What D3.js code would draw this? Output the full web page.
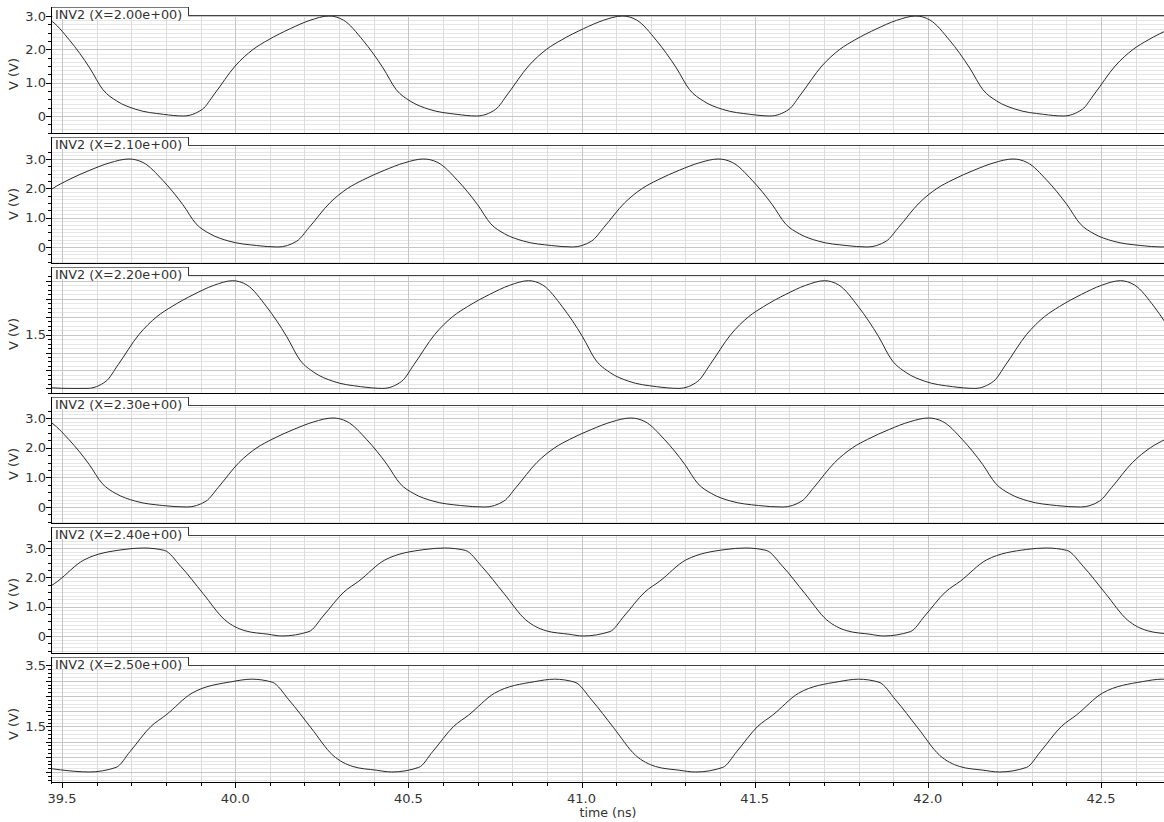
<!DOCTYPE html>
<html>
<head>
<meta charset="utf-8">
<script src="https://cdn.jsdelivr.net/npm/d3@7"></script>
<style>
  html, body { margin: 0; padding: 0; background: #fff; }
  svg text { font-family: "DejaVu Sans", sans-serif; fill: #333; }
</style>
</head>
<body>
<svg id="chart" width="1164" height="822"></svg>
<script>
// time axis (ns)
var timeDomain = [39.471, 42.682];
var timeTicks = [39.5, 40.0, 40.5, 41.0, 41.5, 42.0, 42.5];

// one entry per stacked panel
var panelLabels = ["INV2 (X=2.00e+00)", "INV2 (X=2.10e+00)", "INV2 (X=2.20e+00)",
                   "INV2 (X=2.30e+00)", "INV2 (X=2.40e+00)", "INV2 (X=2.50e+00)"];
var yDomains = [[-0.51, 3.03], [-0.546, 3.477], [-0.128, 3.159],
                [-0.539, 3.438], [-0.58, 3.443], [-0.362, 3.516]];
var yLabelTicks = [[0, 1, 2, 3], [0, 1, 2, 3], [1.5], [0, 1, 2, 3], [0, 1, 2, 3], [1.5, 3.5]];
var yMajorStep = [1, 1, 0.5, 1, 1, 0.5];
var yMinorStep = [0.25, 0.25, 0.125, 0.25, 0.25, 0.125];

// waveforms [time ns, volts]
var wave200 = [[39.369,2.87],[39.424,3.00],[39.465,2.88],[39.522,2.27],[39.580,1.44],[39.618,0.79],[39.658,0.45],[39.713,0.20],[39.793,0.05],
  [39.850,0.00],[39.905,0.20],[39.940,0.66],[40.000,1.50],[40.052,2.00],[40.095,2.28],[40.159,2.62],[40.216,2.87],[40.271,3.00],[40.312,2.88],[40.369,2.27],[40.427,1.44],[40.465,0.79],[40.505,0.45],[40.560,0.20],[40.640,0.05],
  [40.697,0.00],[40.752,0.20],[40.787,0.66],[40.847,1.50],[40.899,2.00],[40.942,2.28],[41.006,2.62],[41.063,2.87],[41.118,3.00],[41.159,2.88],[41.216,2.27],[41.274,1.44],[41.312,0.79],[41.352,0.45],[41.407,0.20],[41.487,0.05],
  [41.544,0.00],[41.599,0.20],[41.634,0.66],[41.694,1.50],[41.746,2.00],[41.789,2.28],[41.853,2.62],[41.910,2.87],[41.965,3.00],[42.006,2.88],[42.063,2.27],[42.121,1.44],[42.159,0.79],[42.199,0.45],[42.254,0.20],[42.334,0.05],
  [42.391,0.00],[42.446,0.20],[42.481,0.66],[42.541,1.50],[42.593,2.00],[42.636,2.28],[42.700,2.62]];
var wave210 = [[39.211,0.05],[39.272,0.00],[39.327,0.20],[39.362,0.66],[39.422,1.50],[39.474,2.00],[39.517,2.28],[39.581,2.62],[39.638,2.87],[39.693,3.00],[39.734,2.88],[39.791,2.27],[39.849,1.44],[39.887,0.79],[39.927,0.45],[39.982,0.20],[40.062,0.05],
  [40.123,0.00],[40.178,0.20],[40.213,0.66],[40.273,1.50],[40.325,2.00],[40.368,2.28],[40.432,2.62],[40.489,2.87],[40.544,3.00],[40.585,2.88],[40.642,2.27],[40.700,1.44],[40.738,0.79],[40.778,0.45],[40.833,0.20],[40.913,0.05],
  [40.974,0.00],[41.029,0.20],[41.064,0.66],[41.124,1.50],[41.176,2.00],[41.219,2.28],[41.283,2.62],[41.340,2.87],[41.395,3.00],[41.436,2.88],[41.493,2.27],[41.551,1.44],[41.589,0.79],[41.629,0.45],[41.684,0.20],[41.764,0.05],
  [41.825,0.00],[41.880,0.20],[41.915,0.66],[41.975,1.50],[42.027,2.00],[42.070,2.28],[42.134,2.62],[42.191,2.87],[42.246,3.00],[42.287,2.88],[42.344,2.27],[42.402,1.44],[42.440,0.79],[42.480,0.45],[42.535,0.20],[42.615,0.05],[42.676,0.00],[42.731,0.20]];
var wave220 = [[39.430,0.05],[39.520,0.00],
  [39.572,0.00],[39.627,0.20],[39.662,0.66],[39.722,1.50],[39.774,2.00],[39.817,2.28],[39.881,2.62],[39.938,2.87],[39.993,3.00],[40.034,2.88],[40.091,2.27],[40.149,1.44],[40.187,0.79],[40.227,0.45],[40.282,0.20],[40.362,0.05],
  [40.426,0.00],[40.481,0.20],[40.516,0.66],[40.576,1.50],[40.628,2.00],[40.671,2.28],[40.735,2.62],[40.792,2.87],[40.847,3.00],[40.888,2.88],[40.945,2.27],[41.003,1.44],[41.041,0.79],[41.081,0.45],[41.136,0.20],[41.216,0.05],
  [41.281,0.00],[41.336,0.20],[41.371,0.66],[41.431,1.50],[41.483,2.00],[41.526,2.28],[41.590,2.62],[41.647,2.87],[41.702,3.00],[41.743,2.88],[41.800,2.27],[41.858,1.44],[41.896,0.79],[41.936,0.45],[41.991,0.20],[42.071,0.05],
  [42.135,0.00],[42.190,0.20],[42.225,0.66],[42.285,1.50],[42.337,2.00],[42.380,2.28],[42.444,2.62],[42.501,2.87],[42.556,3.00],[42.597,2.88],[42.654,2.27],[42.712,1.44]];
var wave230 = [[39.367,2.87],[39.422,3.00],[39.463,2.88],[39.520,2.27],[39.578,1.44],[39.616,0.79],[39.656,0.45],[39.711,0.20],[39.791,0.05],
  [39.861,0.00],[39.916,0.20],[39.951,0.66],[40.011,1.50],[40.063,2.00],[40.106,2.28],[40.170,2.62],[40.227,2.87],[40.282,3.00],[40.323,2.88],[40.380,2.27],[40.438,1.44],[40.476,0.79],[40.516,0.45],[40.571,0.20],[40.651,0.05],
  [40.721,0.00],[40.776,0.20],[40.811,0.66],[40.871,1.50],[40.923,2.00],[40.966,2.28],[41.030,2.62],[41.087,2.87],[41.142,3.00],[41.183,2.88],[41.240,2.27],[41.298,1.44],[41.336,0.79],[41.376,0.45],[41.431,0.20],[41.511,0.05],
  [41.581,0.00],[41.636,0.20],[41.671,0.66],[41.731,1.50],[41.783,2.00],[41.826,2.28],[41.890,2.62],[41.947,2.87],[42.002,3.00],[42.043,2.88],[42.100,2.27],[42.158,1.44],[42.196,0.79],[42.236,0.45],[42.291,0.20],[42.371,0.05],
  [42.441,0.00],[42.496,0.20],[42.531,0.66],[42.591,1.50],[42.643,2.00],[42.686,2.28]];
var wave240 = [[39.266,0.00],[39.344,0.15],[39.385,0.68],[39.445,1.50],[39.488,1.87],[39.563,2.59],[39.679,2.95],[39.736,3.00],[39.795,2.92],[39.843,2.37],[39.907,1.45],[39.970,0.55],[40.028,0.18],[40.095,0.06],
  [40.135,0.00],[40.213,0.15],[40.254,0.68],[40.314,1.50],[40.357,1.87],[40.432,2.59],[40.548,2.95],[40.605,3.00],[40.664,2.92],[40.712,2.37],[40.776,1.45],[40.839,0.55],[40.897,0.18],[40.964,0.06],
  [41.004,0.00],[41.082,0.15],[41.123,0.68],[41.183,1.50],[41.226,1.87],[41.301,2.59],[41.417,2.95],[41.474,3.00],[41.533,2.92],[41.581,2.37],[41.645,1.45],[41.708,0.55],[41.766,0.18],[41.833,0.06],
  [41.872,0.00],[41.950,0.15],[41.991,0.68],[42.051,1.50],[42.094,1.87],[42.169,2.59],[42.285,2.95],[42.342,3.00],[42.401,2.92],[42.449,2.37],[42.513,1.45],[42.576,0.55],[42.634,0.18],[42.701,0.06],[42.741,0.00]];
var wave250 = [[39.450,0.14],[39.540,0.02],
  [39.578,0.00],[39.656,0.15],[39.697,0.68],[39.757,1.50],[39.800,1.87],[39.875,2.59],[39.991,2.97],[40.048,3.05],[40.107,2.95],[40.155,2.37],[40.219,1.45],[40.282,0.55],[40.340,0.18],[40.407,0.06],
  [40.452,0.00],[40.530,0.15],[40.571,0.68],[40.631,1.50],[40.674,1.87],[40.749,2.59],[40.865,2.97],[40.922,3.05],[40.981,2.95],[41.029,2.37],[41.093,1.45],[41.156,0.55],[41.214,0.18],[41.281,0.06],
  [41.330,0.00],[41.408,0.15],[41.449,0.68],[41.509,1.50],[41.552,1.87],[41.627,2.59],[41.743,2.97],[41.800,3.05],[41.859,2.95],[41.907,2.37],[41.971,1.45],[42.034,0.55],[42.092,0.18],[42.159,0.06],
  [42.207,0.00],[42.285,0.15],[42.326,0.68],[42.386,1.50],[42.429,1.87],[42.504,2.59],[42.620,2.97],[42.677,3.05],[42.736,2.95]];
var waves = [wave200, wave210, wave220, wave230, wave240, wave250];

var svg = d3.select("#chart"),
    plotLeft = 52,
    plotRight = 1164,
    panelTop0 = 15,
    panelStep = 130,
    panelHeight = 118,
    boxRight = 188;

var x = d3.scaleLinear().domain(timeDomain).range([plotLeft, plotRight]);
var crisp = function(v) { return Math.round(v) + 0.5; };

var hline = function(g, y, x1, x2, color) {
    g.append("line").attr("x1", x1).attr("x2", x2)
        .attr("y1", crisp(y)).attr("y2", crisp(y))
        .attr("stroke", color).attr("shape-rendering", "crispEdges");
};
var vline = function(g, xv, y1, y2, color) {
    g.append("line").attr("x1", crisp(xv)).attr("x2", crisp(xv))
        .attr("y1", y1).attr("y2", y2)
        .attr("stroke", color).attr("shape-rendering", "crispEdges");
};

var minorTimes = d3.range(39.5, 42.69, 0.1).map(function(t) { return Math.round(t * 10) / 10; });

panelLabels.forEach(function(label, i) {
    var top = panelTop0 + i * panelStep,
        bottom = top + panelHeight,
        dom = yDomains[i],
        y = d3.scaleLinear().domain(dom).range([bottom, top]),
        g = svg.append("g");

    // fine horizontal grid
    d3.range(Math.ceil(dom[0] / 0.125) * 0.125, dom[1], 0.125).forEach(function(v) {
        hline(g, y(v), plotLeft, plotRight, "#e6e6e6");
    });
    // vertical grid
    minorTimes.forEach(function(t) {
        var major = Math.abs(t * 2 - Math.round(t * 2)) < 1e-6;
        vline(g, x(t), top, bottom, major ? "#c6c6c6" : "#dddddd");
    });
    // major horizontal grid
    d3.range(Math.ceil(dom[0] / yMajorStep[i]) * yMajorStep[i], dom[1], yMajorStep[i]).forEach(function(v) {
        hline(g, y(v), plotLeft, plotRight, "#c6c6c6");
    });

    // waveform
    svg.append("clipPath").attr("id", "clip" + i)
        .append("rect").attr("x", plotLeft).attr("y", top)
        .attr("width", plotRight - plotLeft).attr("height", panelHeight);
    g.append("path")
        .datum(waves[i])
        .attr("clip-path", "url(#clip" + i + ")")
        .attr("fill", "none")
        .attr("stroke", "#2a2a2a")
        .attr("stroke-width", 1)
        .attr("d", d3.line().x(function(d) { return x(d[0]); })
                            .y(function(d) { return y(d[1]); })
                            .curve(d3.curveMonotoneX));

    // panel frame and label tab
    g.append("rect").attr("x", plotLeft + 1).attr("y", top - 8)
        .attr("width", boxRight - plotLeft - 1).attr("height", 12).attr("fill", "#fff");
    hline(g, top - 8, plotLeft, boxRight, "#777");
    vline(g, boxRight, top - 8, top + 1, "#333");
    hline(g, top, boxRight, plotRight, "#444");
    g.append("text").attr("x", 55).attr("y", top + 3.5)
        .style("font-size", "12.8px").text(label);
    if (i < panelLabels.length - 1) hline(g, bottom, plotLeft, plotRight, "#000");

    // y axis
    vline(g, plotLeft - 1, top - 8, bottom + 1, "#000");
    d3.range(Math.ceil(dom[0] / yMinorStep[i] - 1e-9) * yMinorStep[i], dom[1], yMinorStep[i]).forEach(function(v) {
        var isMajor = Math.abs(v / yMajorStep[i] - Math.round(v / yMajorStep[i])) < 1e-6;
        var yy = crisp(y(v));
        g.append("line").attr("x1", plotLeft - (isMajor ? 6 : 4)).attr("x2", plotLeft - 1)
            .attr("y1", yy).attr("y2", yy).attr("stroke", "#000").attr("shape-rendering", "crispEdges");
    });
    yLabelTicks[i].forEach(function(v) {
        g.append("text").attr("x", 46).attr("y", y(v)).attr("dy", "0.36em")
            .attr("text-anchor", "end").style("font-size", "13px")
            .text(v === 0 ? "0" : d3.format(".1f")(v));
    });
    g.append("text")
        .attr("transform", "translate(18," + (top + panelHeight / 2) + ") rotate(-90)")
        .attr("text-anchor", "middle").style("font-size", "13px").text("V (V)");

    // time axis under the last panel
    if (i === panelLabels.length - 1) {
        hline(g, bottom - 1, plotLeft - 1, plotRight, "#000");
        minorTimes.forEach(function(t) {
            var major = Math.abs(t * 2 - Math.round(t * 2)) < 1e-6;
            g.append("line").attr("x1", crisp(x(t))).attr("x2", crisp(x(t)))
                .attr("y1", bottom - 1).attr("y2", bottom + (major ? 5 : 3))
                .attr("stroke", "#000").attr("shape-rendering", "crispEdges");
        });
        timeTicks.forEach(function(t) {
            g.append("text").attr("x", x(t)).attr("y", bottom + 20)
                .attr("text-anchor", "middle").style("font-size", "13px")
                .text(d3.format(".1f")(t));
        });
        g.append("text").attr("x", (plotLeft + plotRight) / 2).attr("y", bottom + 34)
            .attr("text-anchor", "middle").style("font-size", "12.6px").text("time (ns)");
    }
});
</script>
</body>
</html>
